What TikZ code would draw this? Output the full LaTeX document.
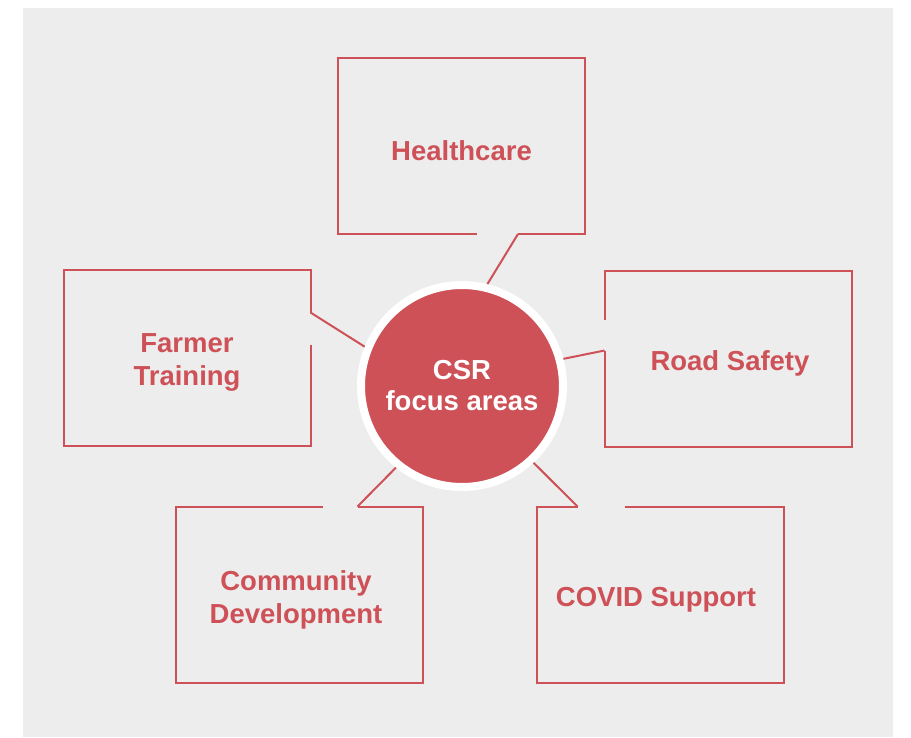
\documentclass[tikz,border=0pt]{standalone}
\usepackage{fontspec}
\setmainfont{Liberation Sans}
\usetikzlibrary{positioning,calc}
\definecolor{csrRed}{HTML}{CE5158}
\definecolor{csrBg}{HTML}{EDEDED}
\tikzset{
  area/.style={rectangle, minimum width=247pt, minimum height=176pt,
               inner sep=0pt, outer sep=0pt},
  tag/.style={align=center, text=csrRed, yshift=-5pt,
              font=\bfseries\fontsize{27.5}{33}\selectfont},
  frame/.style={draw=csrRed, line width=2pt},
  link/.style={draw=csrRed, line width=2pt},
  hub/.style={circle, fill=csrRed, draw=white, line width=8pt,
              minimum size=202pt, inner sep=0pt, align=center, text=white,
              font=\bfseries\fontsize{27.5}{31}\selectfont},
}

\begin{document}
\begin{tikzpicture}[x=1pt, y=-1pt]

\useasboundingbox (0,0) rectangle (911,737);
\fill[csrBg] (23,8) rectangle (893,737);

\node[hub] (csr) at (462,386) {CSR\\focus areas};

\node[area, label={[tag]center:Healthcare}] (hc) at (461.5,146) {};
\node[area, label={[tag]center:Farmer\\Training}] (ft) at (187,357.5) {};
\node[area, label={[tag, xshift=2pt]center:Road Safety}] (rs) at (728,358.5) {};
\node[area, label={[tag, xshift=-3pt]center:Community\\Development}] (cd) at (299,594.5) {};
\node[area, label={[tag, xshift=-4pt]center:COVID Support}] (cv) at (660,594.5) {};

% where each connector leaves its box
\coordinate (hc-in) at ($(hc.south east)+(-67,0)$);
\coordinate (ft-in) at ($(ft.north east)+(0,43)$);
\coordinate (rs-in) at ($(rs.north west)+(0,80)$);
\coordinate (cd-in) at ($(cd.north west)+(182,0)$);
\coordinate (cv-in) at ($(cv.north west)+(41,0)$);

% box outlines, open where the connector comes in
\draw[frame] (hc-in) -- (hc.south east) -- (hc.north east) -- (hc.north west)
  -- (hc.south west) -- ++(139,0);
\draw[frame] (ft-in) -- (ft.north east) -- (ft.north west) -- (ft.south west)
  -- (ft.south east) -- ++(0,-101);
\draw[frame] (rs-in) -- (rs.south west) -- (rs.south east) -- (rs.north east)
  -- (rs.north west) -- ++(0,49);
\draw[frame] (cd-in) -- (cd.north east) -- (cd.south east) -- (cd.south west)
  -- (cd.north west) -- ++(147,0);
\draw[frame] (cv-in) -- (cv.north west) -- (cv.south west) -- (cv.south east)
  -- (cv.north east) -- ++(-159,0);

\draw[link] (hc-in) -- (csr.76);
\draw[link] (ft-in) -- (csr.158);
\draw[link] (rs-in) -- (csr.15);
\draw[link] (cd-in) -- (csr.231);
\draw[link] (cv-in) -- (csr.313);

\end{tikzpicture}
\end{document}
